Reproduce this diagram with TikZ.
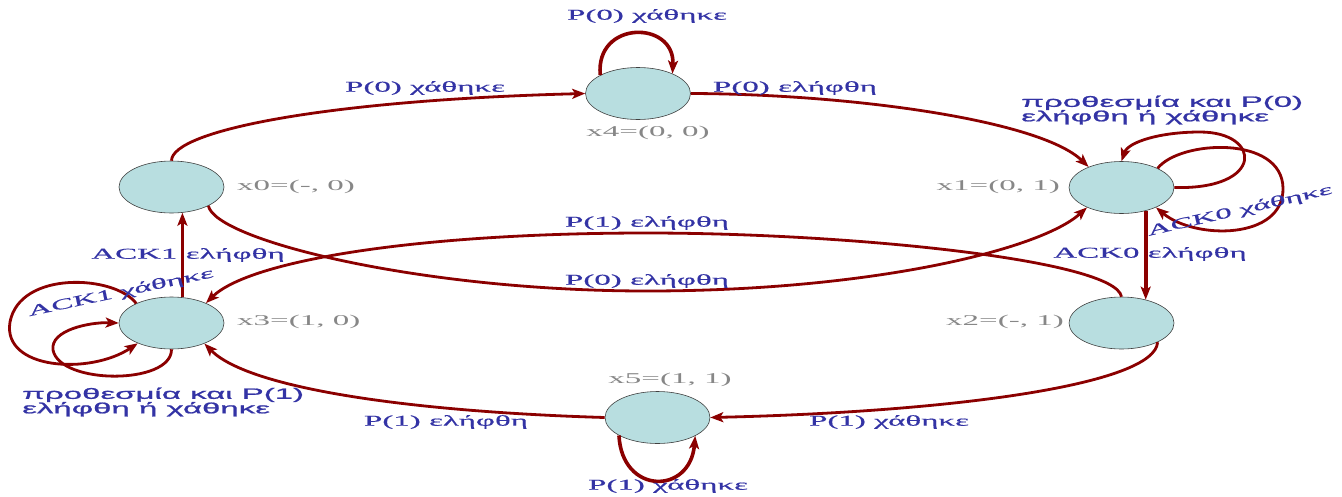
\documentclass[tikz,border=0pt]{standalone}
\usepackage{fontspec}
\usetikzlibrary{arrows.meta,shapes.geometric}
\newfontfamily\lblserif[FakeStretch=2.2,FakeBold=0.6]{Liberation Serif}
\newfontfamily\statefont[FakeStretch=2.2]{Liberation Serif}
\newfontfamily\lblsans[FakeStretch=2.2,FakeBold=1.2]{Liberation Sans}
\definecolor{statefill}{RGB}{184,222,224}
\definecolor{edgered}{RGB}{139,0,0}
\definecolor{lblblue}{RGB}{51,51,165}
\definecolor{stategray}{RGB}{135,135,135}

\begin{document}
\begin{tikzpicture}[x=1pt,y=-1pt,
  state/.style={ellipse, draw=black!75, line width=0.6pt, fill=statefill,
    minimum width=105pt, minimum height=52pt, inner sep=0pt},
  trans/.style={draw=edgered, line width=2.8pt,
    -{Stealth[length=13pt,width=10pt,inset=3pt]}},
  heavy/.style={line width=3.6pt},
  lbl/.style={text=lblblue, font=\lblserif\fontsize{15}{15}\selectfont, inner sep=0pt},
  statelbl/.style={text=stategray, font=\statefont\fontsize{15}{15}\selectfont, inner sep=0pt},
  seclbl/.style={text=lblblue, font=\lblsans\fontsize{15}{14.5}\selectfont,
    align=left, inner sep=0pt}]
\fill[white] (0,0) rectangle (1342,496);
\useasboundingbox (0,0) rectangle (1342,496);

% states
\node[state] (x0) at (171.5,187) {};
\node[state] (x1) at (1121.5,187.5) {};
\node[state] (x2) at (1121.5,323) {};
\node[state] (x3) at (171.5,323) {};
\node[state] (x4) at (638,93.5) {};
\node[state] (x5) at (657.5,417.5) {};

% state names
\node[statelbl, anchor=west] (n0) at (237,187) {x0=(-, 0)};
\node[statelbl, anchor=east] (n1) at (1060,187) {x1=(0, 1)};
\node[statelbl, anchor=east] (n2) at (1064,322) {x2=(-, 1)};
\node[statelbl, anchor=west] (n3) at (237,322) {x3=(1, 0)};
\node[statelbl] (n4) at (648,133) {x4=(0, 0)};
\node[statelbl] (n5) at (670,380) {x5=(1, 1)};

% transitions around the ring
\draw[trans] (x0.north) .. controls (172,130) and (330,100) .. (x4.west);
\draw[trans] (x4.east) .. controls (850,94) and (1040,120) .. (x1.148);
\draw[trans] (x0.-27) .. controls (215,240) and (420,291) .. (647,291)
  .. controls (870,291) and (1040,250) .. (x1.210);
\draw[trans] (x2.north) .. controls (1115,260) and (850,233) .. (647,233)
  .. controls (420,233) and (250,260) .. (x3.30);
\draw[trans, heavy] (x3.67.6) -- (x0.-67.6);
\draw[trans, heavy] (x1.-44) -- (x2.44);
\draw[trans] (x2.-28) .. controls (1155,385) and (950,412) .. (x5.east);
\draw[trans] (x5.west) .. controls (420,412) and (250,390) .. (x3.-32);

% self loops
\draw[trans, heavy] (x4.154) .. controls (595,20) and (675,20) .. (x4.30);
\draw[trans, heavy] (x5.-155) .. controls (622,495) and (690,495) .. (x5.-26);
\draw[trans] (x1.east) .. controls (1265,190) and (1262,132) .. (1200,132)
  .. controls (1160,132) and (1128,142) .. (x1.north);
\draw[trans] (x1.28) .. controls (1180,140) and (1282,135) .. (1283,188)
  .. controls (1284,240) and (1195,240) .. (x1.-30);
\draw[trans] (x3.151) .. controls (115,275) and (20,270) .. (10,322)
  .. controls (2,370) and (90,375) .. (x3.211);
\draw[trans] (x3.south) .. controls (172,385) and (60,385) .. (53,350)
  .. controls (50,330) and (90,322) .. (x3.west);

% transition labels
\node[lbl] (t44) at (647,16) {P(0) χάθηκε};
\node[lbl] (t04) at (425,88) {P(0) χάθηκε};
\node[lbl] (t41) at (795,88) {P(0) ελήφθη};
\node[seclbl, anchor=west] (t11) at (1021,110) {προθεσμία και P(0)\\ελήφθη ή χάθηκε};
\node[lbl] (t23) at (647,223) {P(1) ελήφθη};
\node[lbl, rotate=13] (t11b) at (1240,211) {ACK0 χάθηκε};
\node[lbl] (t30) at (188,255) {ACK1 ελήφθη};
\node[lbl] (t12) at (1150,254) {ACK0 ελήφθη};
\node[lbl] (t01) at (647,281) {P(0) ελήφθη};
\node[lbl, rotate=12] (t33b) at (121,293) {ACK1 χάθηκε};
\node[seclbl, anchor=west] (t33) at (22,402) {προθεσμία και P(1)\\ελήφθη ή χάθηκε};
\node[lbl] (t53) at (446,422) {P(1) ελήφθη};
\node[lbl] (t25) at (889,422) {P(1) χάθηκε};
\node[lbl] (t55) at (668,486) {P(1) χάθηκε};
\end{tikzpicture}
\end{document}
